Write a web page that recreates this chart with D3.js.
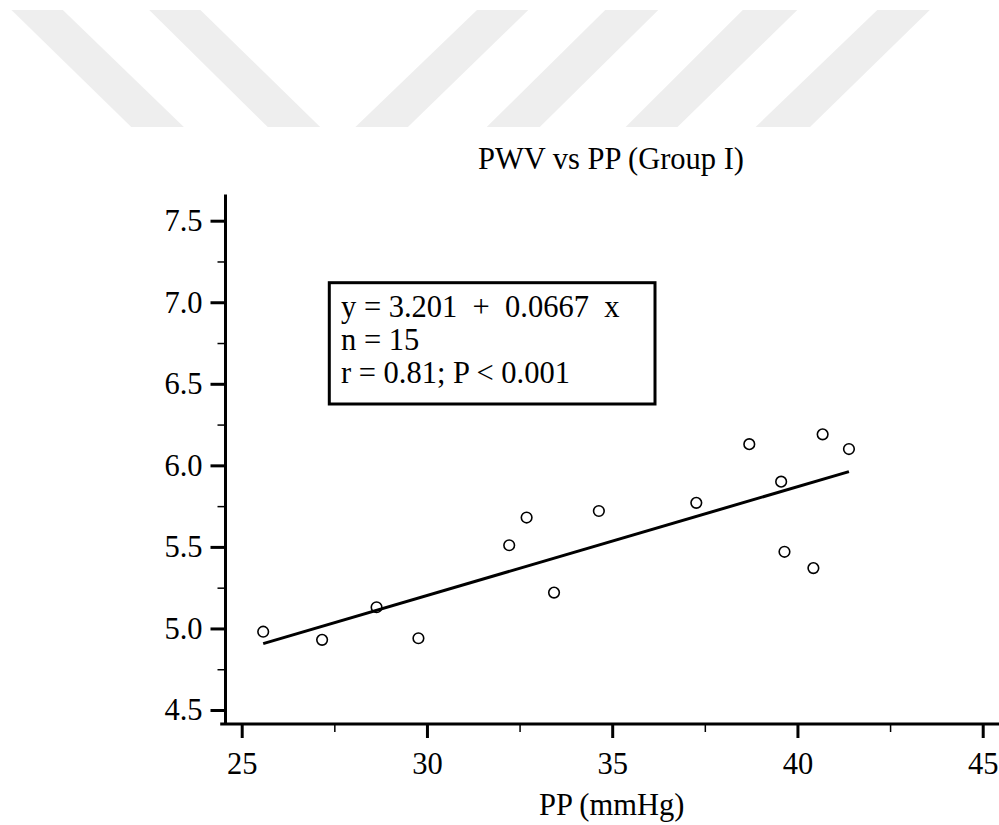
<!DOCTYPE html>
<html>
<head>
<meta charset="utf-8">
<script src="https://cdn.jsdelivr.net/npm/d3@7/dist/d3.min.js"></script>
<style>
  body { margin: 0; background: #fff; }
  svg { display: block; font-family: "Liberation Serif", "Times New Roman", serif; }
</style>
</head>
<body>
<svg id="chart" width="999" height="825"></svg>
<script>
// data
var ppValues  = [25.58, 27.17, 28.64, 29.77, 32.22, 32.69, 33.43, 34.64, 37.27, 38.70, 39.56, 39.65, 40.43, 40.68, 41.39];
var pwvValues = [4.98, 4.93, 5.13, 4.94, 5.51, 5.68, 5.22, 5.72, 5.77, 6.13, 5.90, 5.47, 5.37, 6.19, 6.10];
var fitIntercept = 3.201;
var fitSlope = 0.0667;

var xMajor = [25, 30, 35, 40, 45];
var xMinor = [27.5, 32.5, 37.5, 42.5];
var yMajor = [4.5, 5.0, 5.5, 6.0, 6.5, 7.0, 7.5];
var yMinor = [4.75, 5.25, 5.75, 6.25, 6.75, 7.25];
var xAxisExtent = [24.42, 45.5];
var yAxisExtent = [4.415, 7.66];

var legendLines = ["y = 3.201  +  0.0667  x", "n = 15", "r = 0.81; P < 0.001"];

var fontSize = '30.5px';

// faint watermark stripes at the top of the page
var stripes = [
    [[11.5, 10], [62.8, 10], [183.8, 127], [131.3, 127]],
    [[149.2, 10], [200.4, 10], [320.2, 127], [267.7, 127]],
    [[477, 10], [528.3, 10], [407.9, 127], [355.4, 127]],
    [[605.2, 10], [658.3, 10], [539.8, 127], [486.7, 127]],
    [[742.8, 10], [797.3, 10], [677.5, 127], [625.6, 127]],
    [[877.3, 10], [929.8, 10], [810, 127], [755.6, 127]]
];

var svg = d3.select('#chart');

svg.selectAll('polygon.stripe')
    .data(stripes)
    .enter().append('polygon')
    .attr('class', 'stripe')
    .attr('points', function(d) { return d.map(function(p) { return p.join(','); }).join(' '); })
    .attr('fill', '#eeeeee')
;

var x = d3.scaleLinear().domain([25, 45]).range([241.7, 982.7]);
var y = d3.scaleLinear().domain([4.5, 7.5]).range([710, 220.7]);

var axisX = 225.5, axisY = 724;

// y axis: major + minor ticks
var yAxisMajor = d3.axisLeft(y).tickValues(yMajor).tickSize(15).tickPadding(8).tickFormat(d3.format('.1f'));
var yAxisMinor = d3.axisLeft(y).tickValues(yMinor).tickSize(8).tickFormat('');

var gy = svg.append('g').attr('transform', 'translate(' + axisX + ',0)');
gy.append('g').attr('class', 'minor').call(yAxisMinor);
gy.append('g').attr('class', 'major').call(yAxisMajor);

// x axis
var xAxisMajor = d3.axisBottom(x).tickValues(xMajor).tickSize(14).tickPadding(14).tickFormat(d3.format('d'));
var xAxisMinor = d3.axisBottom(x).tickValues(xMinor).tickSize(8).tickFormat('');

var gx = svg.append('g').attr('transform', 'translate(0,' + axisY + ')');
gx.append('g').attr('class', 'minor').call(xAxisMinor);
gx.append('g').attr('class', 'major').call(xAxisMajor);

svg.selectAll('.domain').remove();
svg.selectAll('.tick text')
    .attr('fill', '#000')
    .style('font-size', fontSize)
    .style('font-family', '"Liberation Serif", "Times New Roman", serif')
;
svg.selectAll('.major .tick line').attr('stroke-width', 3);
svg.selectAll('.minor .tick line').attr('stroke-width', 1.5);

// axis lines
svg.append('line')
    .attr('x1', axisX).attr('x2', axisX)
    .attr('y1', y(yAxisExtent[1])).attr('y2', y(yAxisExtent[0]))
    .attr('stroke', '#000').attr('stroke-width', 3)
;
svg.append('line')
    .attr('x1', x(xAxisExtent[0])).attr('x2', x(xAxisExtent[1]))
    .attr('y1', axisY).attr('y2', axisY)
    .attr('stroke', '#000').attr('stroke-width', 3)
;

// regression line
var xExt = d3.extent(ppValues);
svg.append('line')
    .attr('x1', x(xExt[0])).attr('y1', y(fitIntercept + fitSlope * xExt[0]))
    .attr('x2', x(xExt[1])).attr('y2', y(fitIntercept + fitSlope * xExt[1]))
    .attr('stroke', '#000').attr('stroke-width', 3)
;

// points
svg.selectAll('circle.pt')
    .data(ppValues)
    .enter().append('circle')
    .attr('class', 'pt')
    .attr('cx', function(d) { return x(d); })
    .attr('cy', function(d, i) { return y(pwvValues[i]); })
    .attr('r', 5.3)
    .attr('fill', 'none')
    .attr('stroke', '#000')
    .attr('stroke-width', 1.6)
;

// stats box
svg.append('rect')
    .attr('x', 329.3).attr('y', 282.7)
    .attr('width', 325.7).attr('height', 121.3)
    .attr('fill', '#fff').attr('stroke', '#000').attr('stroke-width', 3)
;
svg.selectAll('text.stat')
    .data(legendLines)
    .enter().append('text')
    .attr('class', 'stat')
    .attr('x', 341)
    .attr('y', function(d, i) { return 316.7 + i * 33.2; })
    .style('font-size', fontSize)
    .style('white-space', 'pre')
    .attr('xml:space', 'preserve')
    .text(function(d) { return d; })
;

// title and x label
svg.append('text')
    .attr('x', 611).attr('y', 169)
    .attr('text-anchor', 'middle')
    .style('font-size', fontSize)
    .text('PWV vs PP (Group I)')
;
svg.append('text')
    .attr('x', 611.7).attr('y', 815)
    .attr('text-anchor', 'middle')
    .style('font-size', fontSize)
    .text('PP (mmHg)')
;
</script>
</body>
</html>
